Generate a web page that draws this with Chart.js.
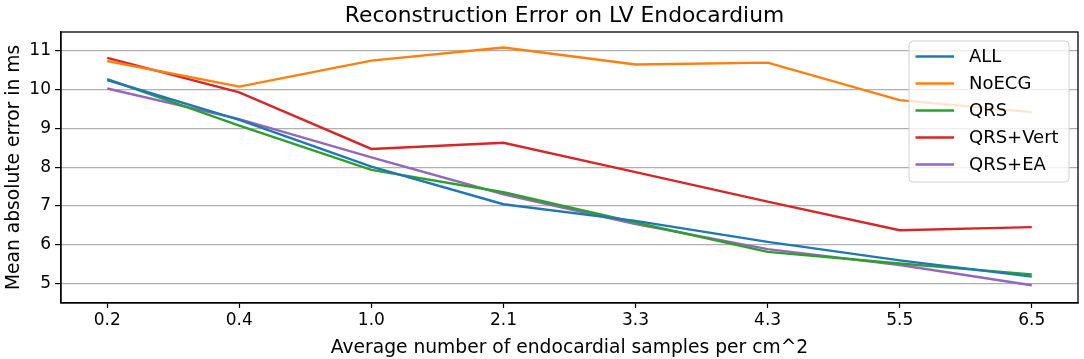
<!DOCTYPE html>
<html>
<head>
<meta charset="utf-8">
<script src="https://cdn.jsdelivr.net/npm/chart.js@4.4.1/dist/chart.umd.min.js"></script>
<style>
  html, body { margin: 0; padding: 0; background: #fff; }
  #wrap { width: 1084px; height: 359px; }
</style>
</head>
<body>
<div id="wrap"><canvas id="errChart" width="1084" height="359"></canvas></div>
<script>
// samples per cm^2
const categories = ["0.2", "0.4", "1.0", "2.1", "3.3", "4.3", "5.5", "6.5"];
const yTicks = [5, 6, 7, 8, 9, 10, 11];

const allErr    = [10.25, 9.22, 8.01, 7.04, 6.61, 6.07, 5.59, 5.17];
const noEcgErr  = [10.74, 10.08, 10.75, 11.09, 10.65, 10.70, 9.73, 9.42];
const qrsErr    = [10.27, 9.07, 7.93, 7.35, 6.57, 5.81, 5.51, 5.23];
const qrsVert   = [10.82, 9.93, 8.47, 8.63, 7.87, 7.11, 6.37, 6.45];
const qrsEa     = [10.03, 9.24, 8.25, 7.30, 6.53, 5.88, 5.47, 4.95];

const seriesNames = ["ALL", "NoECG", "QRS", "QRS+Vert", "QRS+EA"];
const seriesColors = ["#1f77b4", "#ff7f0e", "#2ca02c", "#d62728", "#9467bd"];
const seriesValues = [allErr, noEcgErr, qrsErr, qrsVert, qrsEa];

const chartTitle = "Reconstruction Error on LV Endocardium";
const font = "'DejaVu Sans', sans-serif";

const datasets = seriesNames.map((name, i) => ({
    label: name,
    data: seriesValues[i].map((v, idx) => ({ x: idx, y: v })),
    borderColor: seriesColors[i],
    backgroundColor: seriesColors[i],
    borderWidth: 2.4,
    pointRadius: 0,
    tension: 0,
    fill: false
}));

// title over the plot, box round the plot, legend inside the plot (matplotlib look)
const framePlugin = {
    id: "frame",
    afterDraw(chart) {
        const ctx = chart.ctx;
        const a = chart.chartArea;
        ctx.save();
        ctx.strokeStyle = "#000";
        ctx.lineWidth = 1.3;
        ctx.strokeRect(a.left, a.top, a.right - a.left, a.bottom - a.top);

        ctx.fillStyle = "#000";
        ctx.font = "21.8px " + font;
        ctx.textAlign = "center";
        ctx.textBaseline = "alphabetic";
        ctx.fillText(chartTitle, (a.left + a.right) / 2 - 5, 22);

        // legend
        const w = 160, h = 141;
        const x0 = a.right - 9 - w, y0 = a.top + 9;
        ctx.beginPath();
        ctx.roundRect(x0, y0, w, h, 4);
        ctx.fillStyle = "rgba(255,255,255,0.8)";
        ctx.fill();
        ctx.strokeStyle = "#d0d0d0";
        ctx.lineWidth = 1;
        ctx.stroke();
        ctx.font = "18px " + font;
        ctx.textBaseline = "middle";
        ctx.textAlign = "left";
        chart.data.datasets.forEach((ds, i) => {
            const yy = y0 + 15.5 + i * 27;
            ctx.strokeStyle = ds.borderColor;
            ctx.lineWidth = 2.4;
            ctx.beginPath();
            ctx.moveTo(x0 + 6.5, yy);
            ctx.lineTo(x0 + 45, yy);
            ctx.stroke();
            ctx.fillStyle = "#000";
            ctx.fillText(ds.label, x0 + 60, yy + 1);
        });
        ctx.restore();
    }
};

new Chart(document.getElementById("errChart").getContext("2d"), {
    type: "line",
    data: { datasets: datasets },
    options: {
        responsive: false,
        animation: false,
        layout: { padding: { left: 0, right: 6, top: 32, bottom: 0 } },
        plugins: {
            legend: { display: false },
            tooltip: { enabled: false },
            title: { display: false }
        },
        scales: {
            x: {
                type: "linear",
                min: -0.35,
                max: 7.35,
                afterBuildTicks(scale) {
                    scale.ticks = categories.map((c, i) => ({ value: i }));
                },
                afterFit(scale) { scale.height = 56; },
                ticks: {
                    color: "#000",
                    font: { family: font, size: 17 },
                    padding: 2,
                    maxRotation: 0,
                    callback: (v) => categories[v]
                },
                grid: {
                    drawOnChartArea: false,
                    drawTicks: true,
                    tickLength: 5,
                    tickColor: "#000",
                    tickWidth: 1.2
                },
                border: { display: true, color: "#000", width: 1.3 },
                title: {
                    display: true,
                    text: "Average number of endocardial samples per cm^2",
                    color: "#000",
                    font: { family: font, size: 18.7 },
                    padding: { top: 2, bottom: 0 }
                }
            },
            y: {
                min: 4.49,
                max: 11.49,
                afterBuildTicks(scale) {
                    scale.ticks = yTicks.map(v => ({ value: v }));
                },
                afterFit(scale) { scale.width = 61; },
                ticks: {
                    color: "#000",
                    font: { family: font, size: 17 },
                    padding: 4
                },
                grid: {
                    color: "#b0b0b0",
                    lineWidth: 1.2,
                    drawTicks: true,
                    tickLength: 6,
                    tickColor: "#000",
                    tickWidth: 1.2
                },
                border: { display: true, color: "#000", width: 1.3 },
                title: {
                    display: true,
                    text: "Mean absolute error in ms",
                    color: "#000",
                    font: { family: font, size: 18.7 },
                    padding: { top: 3, bottom: 0 }
                }
            }
        }
    },
    plugins: [framePlugin]
});
</script>
</body>
</html>
